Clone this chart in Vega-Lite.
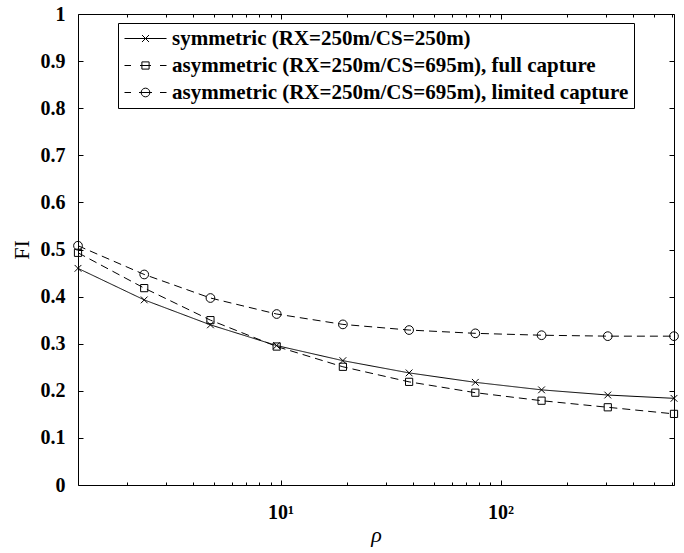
{
  "$schema": "https://vega.github.io/schema/vega-lite/v6.json",
  "width": 596,
  "height": 471,
  "autosize": {"type": "none"},
  "padding": {"left": 78, "top": 14, "right": 10, "bottom": 68},
  "background": "white",
  "config": {
    "font": "Liberation Serif",
    "view": {"stroke": "black", "strokeWidth": 1},
    "axis": {"tickColor": "black", "labelColor": "black", "titleColor": "black", "domain": false, "grid": false, "tickWidth": 1}
  },
  "data": {
    "values": [
      {"rho": 1.2, "FI": 0.460, "series": "symmetric (RX=250m/CS=250m)"},
      {"rho": 2.4, "FI": 0.393, "series": "symmetric (RX=250m/CS=250m)"},
      {"rho": 4.8, "FI": 0.340, "series": "symmetric (RX=250m/CS=250m)"},
      {"rho": 9.6, "FI": 0.296, "series": "symmetric (RX=250m/CS=250m)"},
      {"rho": 19.2, "FI": 0.264, "series": "symmetric (RX=250m/CS=250m)"},
      {"rho": 38.4, "FI": 0.238, "series": "symmetric (RX=250m/CS=250m)"},
      {"rho": 76.8, "FI": 0.218, "series": "symmetric (RX=250m/CS=250m)"},
      {"rho": 153.6, "FI": 0.202, "series": "symmetric (RX=250m/CS=250m)"},
      {"rho": 307.2, "FI": 0.191, "series": "symmetric (RX=250m/CS=250m)"},
      {"rho": 614.4, "FI": 0.184, "series": "symmetric (RX=250m/CS=250m)"},
      {"rho": 1.2, "FI": 0.493, "series": "asymmetric (RX=250m/CS=695m), full capture"},
      {"rho": 2.4, "FI": 0.418, "series": "asymmetric (RX=250m/CS=695m), full capture"},
      {"rho": 4.8, "FI": 0.350, "series": "asymmetric (RX=250m/CS=695m), full capture"},
      {"rho": 9.6, "FI": 0.294, "series": "asymmetric (RX=250m/CS=695m), full capture"},
      {"rho": 19.2, "FI": 0.251, "series": "asymmetric (RX=250m/CS=695m), full capture"},
      {"rho": 38.4, "FI": 0.219, "series": "asymmetric (RX=250m/CS=695m), full capture"},
      {"rho": 76.8, "FI": 0.196, "series": "asymmetric (RX=250m/CS=695m), full capture"},
      {"rho": 153.6, "FI": 0.179, "series": "asymmetric (RX=250m/CS=695m), full capture"},
      {"rho": 307.2, "FI": 0.165, "series": "asymmetric (RX=250m/CS=695m), full capture"},
      {"rho": 614.4, "FI": 0.151, "series": "asymmetric (RX=250m/CS=695m), full capture"},
      {"rho": 1.2, "FI": 0.508, "series": "asymmetric (RX=250m/CS=695m), limited capture"},
      {"rho": 2.4, "FI": 0.447, "series": "asymmetric (RX=250m/CS=695m), limited capture"},
      {"rho": 4.8, "FI": 0.397, "series": "asymmetric (RX=250m/CS=695m), limited capture"},
      {"rho": 9.6, "FI": 0.363, "series": "asymmetric (RX=250m/CS=695m), limited capture"},
      {"rho": 19.2, "FI": 0.341, "series": "asymmetric (RX=250m/CS=695m), limited capture"},
      {"rho": 38.4, "FI": 0.329, "series": "asymmetric (RX=250m/CS=695m), limited capture"},
      {"rho": 76.8, "FI": 0.322, "series": "asymmetric (RX=250m/CS=695m), limited capture"},
      {"rho": 153.6, "FI": 0.318, "series": "asymmetric (RX=250m/CS=695m), limited capture"},
      {"rho": 307.2, "FI": 0.316, "series": "asymmetric (RX=250m/CS=695m), limited capture"},
      {"rho": 614.4, "FI": 0.316, "series": "asymmetric (RX=250m/CS=695m), limited capture"}
    ]
  },
  "layer": [
    {
      "mark": {"type": "line", "color": "black", "strokeWidth": 1},
      "encoding": {
        "x": {
          "field": "rho", "type": "quantitative",
          "scale": {"type": "log", "domain": [1.2, 614.4], "nice": false},
          "axis": {
            "orient": "bottom", "values": [10, 100],
            "labelExpr": "datum.value == 10 ? '10\u00b9' : '10\u00b2'",
            "tickSize": -5, "labelFontSize": 20, "labelFontWeight": "bold",
            "labelPadding": 38, "labelBaseline": "alphabetic",
            "title": "\u03c1", "titleFontSize": 22, "titleFontStyle": "italic", "titleFontWeight": "normal",
            "titleX": 298, "titleY": 56, "titleBaseline": "alphabetic", "titleAlign": "center"
          }
        },
        "y": {
          "field": "FI", "type": "quantitative",
          "scale": {"domain": [0, 1], "nice": false, "zero": false},
          "axis": {
            "orient": "left", "values": [0, 0.1, 0.2, 0.3, 0.4, 0.5, 0.6, 0.7, 0.8, 0.9, 1],
            "format": "~g", "tickSize": -5, "labelFontSize": 20, "labelFontWeight": "bold", "labelPadding": 18,
            "title": "FI", "titleFontSize": 22, "titleFontWeight": "normal",
            "titleX": -50, "titleY": 235.5, "titleAngle": -90, "titleBaseline": "alphabetic", "titleAlign": "center"
          }
        },
        "strokeDash": {
          "field": "series", "type": "nominal",
          "scale": {
            "domain": ["symmetric (RX=250m/CS=250m)", "asymmetric (RX=250m/CS=695m), full capture", "asymmetric (RX=250m/CS=695m), limited capture"],
            "range": [[1, 0], [8, 5], [8, 5]]
          },
          "legend": null
        }
      }
    },
    {
      "mark": {"type": "point", "filled": false, "stroke": "black", "strokeWidth": 1, "size": 81, "opacity": 1},
      "encoding": {
        "x": {
          "field": "rho", "type": "quantitative",
          "scale": {"type": "log", "domain": [1.2, 614.4], "nice": false},
          "axis": {"orient": "bottom", "values": [2, 3, 4, 5, 6, 7, 8, 9, 20, 30, 40, 50, 60, 70, 80, 90, 200, 300, 400, 500, 600], "tickSize": -3, "labels": false, "title": null}
        },
        "y": {
          "field": "FI", "type": "quantitative",
          "scale": {"domain": [0, 1], "nice": false, "zero": false},
          "axis": {"orient": "right", "values": [0, 0.1, 0.2, 0.3, 0.4, 0.5, 0.6, 0.7, 0.8, 0.9, 1], "tickSize": -5, "labels": false, "title": null}
        },
        "shape": {
          "field": "series", "type": "nominal",
          "scale": {
            "domain": ["symmetric (RX=250m/CS=250m)", "asymmetric (RX=250m/CS=695m), full capture", "asymmetric (RX=250m/CS=695m), limited capture"],
            "range": ["M-0.75,-0.75L0.75,0.75M-0.75,0.75L0.75,-0.75", "M-0.8,-0.8L0.8,-0.8L0.8,0.8L-0.8,0.8Z", "M0.97,0A0.97,0.97,0,1,1,-0.97,0A0.97,0.97,0,1,1,0.97,0Z"]
          },
          "legend": null
        }
      }
    },
    {
      "mark": {"type": "point", "opacity": 0, "filled": false, "stroke": "black"},
      "encoding": {
        "x": {
          "field": "rho", "type": "quantitative",
          "scale": {"type": "log", "domain": [1.2, 614.4], "nice": false},
          "axis": null
        },
        "y": {
          "field": "FI", "type": "quantitative",
          "scale": {"domain": [0, 1], "nice": false, "zero": false},
          "axis": null
        },
        "shape": {
          "field": "series", "type": "nominal",
          "scale": {
            "domain": ["symmetric (RX=250m/CS=250m)", "asymmetric (RX=250m/CS=695m), full capture", "asymmetric (RX=250m/CS=695m), limited capture"],
            "range": [
              "M-4.2,0L4.2,0M-0.7,-0.7L0.7,0.7M-0.7,0.7L0.7,-0.7",
              "M-4.2,0L-2.9,0M-1.1,0L1.1,0M2.9,0L4.2,0M-0.72,-0.72L0.72,-0.72L0.72,0.72L-0.72,0.72Z",
              "M-4.2,0L-2.9,0M-1.3,0L1.3,0M2.9,0L4.2,0M0.87,0A0.87,0.87,0,1,1,-0.87,0A0.87,0.87,0,1,1,0.87,0Z"
            ]
          },
          "legend": {
            "orient": "none", "legendX": 40, "legendY": 9, "title": null,
            "strokeColor": "black", "fillColor": "white", "padding": 5,
            "symbolSize": 100, "symbolOffset": 12, "labelOffset": 16,
            "labelFont": "Liberation Serif", "labelFontSize": 21, "labelFontWeight": "bold", "labelColor": "black", "labelLimit": 700,
            "rowPadding": 5,
            "symbolStrokeColor": "black", "symbolFillColor": "transparent", "symbolStrokeWidth": 1, "symbolOpacity": 1
          }
        }
      }
    },
    {
      "mark": {"type": "point", "opacity": 0},
      "encoding": {
        "x": {
          "field": "rho", "type": "quantitative",
          "scale": {"type": "log", "domain": [1.2, 614.4], "nice": false},
          "axis": {"orient": "top", "values": [10, 100], "tickSize": -5, "labels": false, "title": null}
        }
      }
    },
    {
      "mark": {"type": "point", "opacity": 0},
      "encoding": {
        "x": {
          "field": "rho", "type": "quantitative",
          "scale": {"type": "log", "domain": [1.2, 614.4], "nice": false},
          "axis": {"orient": "top", "values": [2, 3, 4, 5, 6, 7, 8, 9, 20, 30, 40, 50, 60, 70, 80, 90, 200, 300, 400, 500, 600], "tickSize": -3, "labels": false, "title": null}
        }
      }
    }
  ],
  "resolve": {"axis": {"x": "independent", "y": "independent"}, "scale": {"shape": "independent"}, "legend": {"shape": "independent"}}
}
